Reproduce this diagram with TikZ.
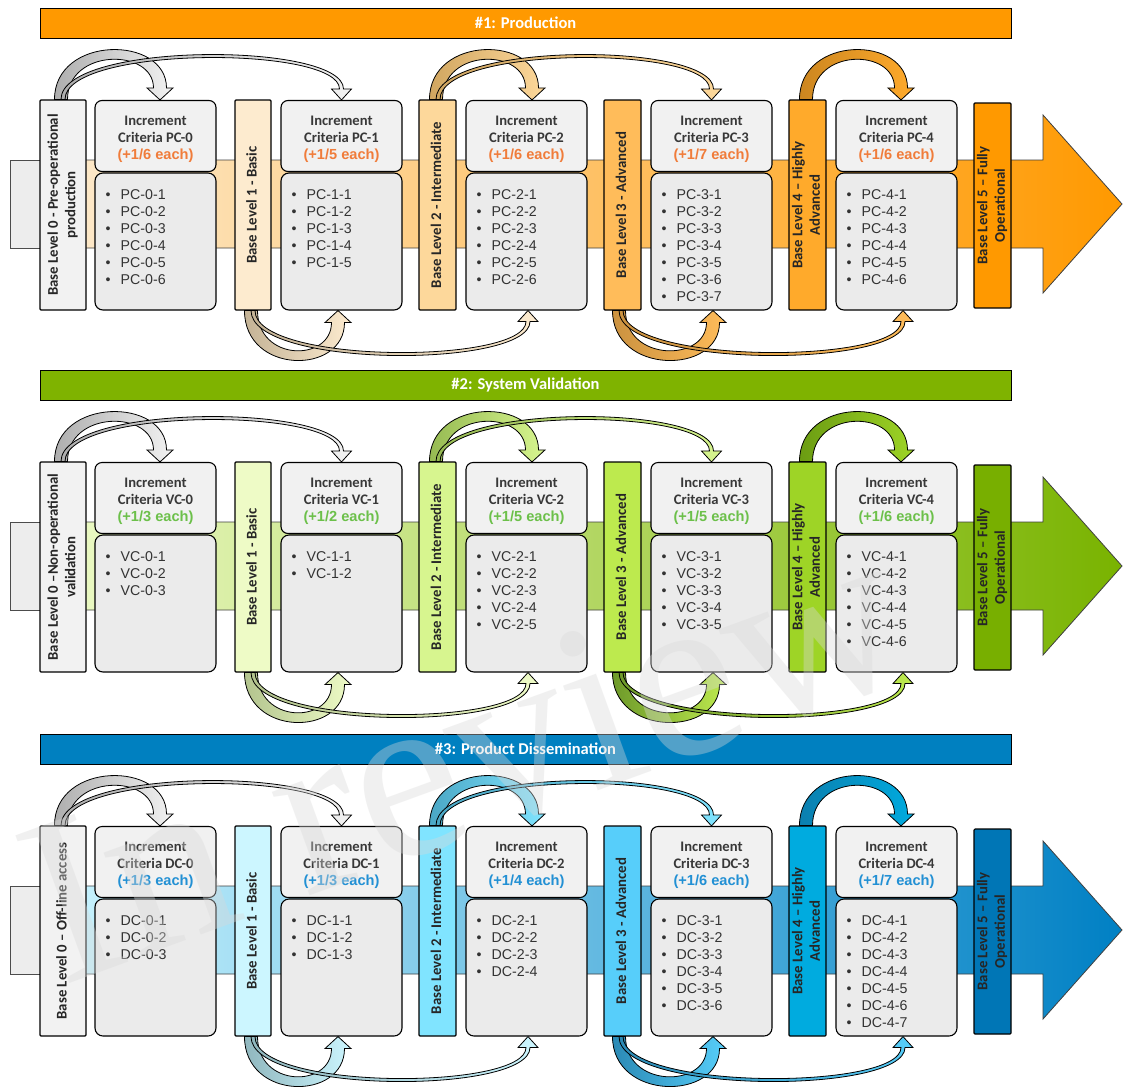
\documentclass[tikz,border=0pt]{standalone}
\usepackage{fontspec}
\usepackage{graphicx}
\setmainfont{Carlito}
\newfontfamily\arialf{Liberation Sans}
\newfontfamily\wmfont{Liberation Serif}
\usetikzlibrary{calc}

\definecolor{blzero}{HTML}{F2F2F2}
\definecolor{arrgrey}{HTML}{AEAEAE}
\definecolor{leftgrey}{HTML}{EDEDED}
\definecolor{hdrgray}{HTML}{F1F1F1}
\definecolor{lstgray}{HTML}{EBEBEB}
% section 1
\definecolor{s1t}{HTML}{FF9900}
\definecolor{s1b1}{HTML}{FDEBCF}
\definecolor{s1b2}{HTML}{FDD89B}
\definecolor{s1b3}{HTML}{FFBC5A}
\definecolor{s1b4}{HTML}{FFAA2B}
\definecolor{s1b5}{HTML}{FF9900}
\definecolor{s1a}{HTML}{F07C3A}
\definecolor{s1bl}{HTML}{FDEBCF}
\definecolor{s1bm}{HTML}{FFC466}
\definecolor{s1br}{HTML}{FF9900}
\definecolor{s1d1}{HTML}{C4B396}
\definecolor{s1d2}{HTML}{D1A660}
\definecolor{s1d3}{HTML}{CB9240}
\definecolor{s1d4}{HTML}{CC8620}
% section 2
\definecolor{s2t}{HTML}{7FB300}
\definecolor{s2b1}{HTML}{EEFBC6}
\definecolor{s2b2}{HTML}{D7F58F}
\definecolor{s2b3}{HTML}{BDEA4E}
\definecolor{s2b4}{HTML}{9ED426}
\definecolor{s2b5}{HTML}{78AF00}
\definecolor{s2a}{HTML}{6CC04A}
\definecolor{s2bl}{HTML}{EEFBC9}
\definecolor{s2bm}{HTML}{BDEA52}
\definecolor{s2br}{HTML}{79B300}
\definecolor{s2d1}{HTML}{B3C48E}
\definecolor{s2d2}{HTML}{96BA52}
\definecolor{s2d3}{HTML}{6E9A2A}
\definecolor{s2d4}{HTML}{6B9C12}
% section 3
\definecolor{s3t}{HTML}{0080C0}
\definecolor{s3b1}{HTML}{CCF6FF}
\definecolor{s3b2}{HTML}{80E4FF}
\definecolor{s3b3}{HTML}{57CEFA}
\definecolor{s3b4}{HTML}{00ABDF}
\definecolor{s3b5}{HTML}{0076B6}
\definecolor{s3a}{HTML}{2290D4}
\definecolor{s3bl}{HTML}{CCF5FF}
\definecolor{s3bm}{HTML}{4FCDF8}
\definecolor{s3br}{HTML}{0080C4}
\definecolor{s3d1}{HTML}{90B7BE}
\definecolor{s3d2}{HTML}{4AA7C5}
\definecolor{s3d3}{HTML}{2B8AB5}
\definecolor{s3d4}{HTML}{0B7FAF}

\newcommand\rottext[1]{\rotatebox{90}{\begin{tabular}{@{}c@{}}#1\end{tabular}}}

% curved block arrow: #1 from, #2 to, #3 sign (1 up, -1 down), #4 half shaft, #5 head half width,
% #6 head length, #7 height, #8 dark colour, #9 light colour
\newcommand\carrow[9]{%
  \pgfmathsetmacro\arrW{#4}%
  \pgfmathsetmacro\arrHW{#5}%
  \pgfmathsetmacro\arrHL{#3*#6}%
  \pgfmathsetmacro\arrO{#3*(#7+#4)}%
  \pgfmathsetmacro\arrI{#3*(#7-#4)}%
  \shadedraw[left color=#8, right color=#9, draw=black, line width=0.8pt]
    let \p1=#1, \p2=#2 in
    (\x1-\arrW pt,\y1) .. controls (\x1-\arrW pt,\y1+\arrO pt) and (\x2+\arrW pt,\y1+\arrO pt) .. (\x2+\arrW pt,\y2+\arrHL pt)
    -- (\x2+\arrHW pt,\y2+\arrHL pt) -- (\x2,\y2) -- (\x2-\arrHW pt,\y2+\arrHL pt) -- (\x2-\arrW pt,\y2+\arrHL pt)
    .. controls (\x2-\arrW pt,\y1+\arrI pt) and (\x1+\arrW pt,\y1+\arrI pt) .. (\x1+\arrW pt,\y1) -- cycle;}
\newcommand\fatarr[5]{\carrow{#1}{#2}{#3}{6.5}{13}{12}{58}{#4}{#5}}
\newcommand\thinarr[5]{\carrow{#1}{#2}{#3}{2}{10}{11}{56}{#4}{#5}}

% #1 idx, #2 y offset, #3 prefix, #4 title, #5 level-0 text, #6 list k/xc/n
\newcommand\drawsection[6]{%
  \node[titlebar, fill=s#1t] (s#1title) at (525.5,{23+#2}) {#4};
  \filldraw[fill=leftgrey, draw=black!70, line width=0.8pt] (10,{160+#2}) rectangle (46,{248+#2});
  \shadedraw[left color=s#1bl, middle color=s#1bm, right color=s#1br, draw=black!75, line width=0.8pt]
    (44,{160+#2}) -- (1043,{160+#2}) -- (1043,{115+#2}) -- (1122,{204+#2}) -- (1043,{293+#2})
    -- (1043,{248+#2}) -- (44,{248+#2}) -- cycle;
  \node[bl, fill=blzero, minimum width=46] (s#1L0) at (63,{205+#2}) {\rottext{#5}};
  \node[bl, fill=s#1b1, minimum width=36] (s#1L1) at (253,{205+#2}) {\rottext{Base Level 1 - Basic}};
  \node[bl, fill=s#1b2, minimum width=37] (s#1L2) at (437.5,{205+#2}) {\rottext{Base Level 2 - Intermediate}};
  \node[bl, fill=s#1b3, minimum width=37] (s#1L3) at (622.5,{205+#2}) {\rottext{Base Level 3 - Advanced}};
  \node[bl, fill=s#1b4, minimum width=37] (s#1L4) at (807.5,{205+#2}) {\rottext{Base Level 4 – Highly\\Advanced}};
  \node[bl, fill=s#1b5, minimum width=37, minimum height=205] (s#1L5) at (992.5,{205.5+#2}) {\rottext{Base Level 5 – Fully\\Operational}};
  \foreach \k/\xc/\n in {#6} {
    \node[hdr] (s#1h\k) at (\xc,{136+#2}) {};
    \node[hdrtext] (s#1h\k t) at (\xc,{139+#2}) {Increment\\Criteria #3-\k\\{\arialf\color{s#1a}(+1/\n\ each)}};
    \node[lst] (s#1l\k) at (\xc,{241.5+#2}) {};
    \foreach \m in {1,...,\n} {
      \node[item] (s#1l\k-\m) at ({\xc-50},{199+#2+17.1*(\m-1)}) {\makebox[15pt][l]{•}#3-\k-\m};
    }
  }
  \fatarr{($(s#1L0.north)+(-2,0)$)}{($(s#1h0.north)+(4.5,0)$)}{1}{arrgrey}{blzero}
  \thinarr{(s#1L0.north)}{(s#1h1.north)}{1}{arrgrey}{blzero}
  \fatarr{($(s#1L2.north)+(-1.5,0)$)}{($(s#1h2.north)+(5.5,0)$)}{1}{s#1d2}{s#1b2}
  \thinarr{($(s#1L2.north)+(0.5,0)$)}{(s#1h3.north)}{1}{s#1d2}{s#1b2}
  \fatarr{($(s#1L4.north)+(-1.5,0)$)}{($(s#1h4.north)+(4.5,0)$)}{1}{s#1d4}{s#1b4}
  \fatarr{($(s#1L1.south)+(-2,0)$)}{($(s#1l1.south)+(-3.5,0)$)}{-1}{s#1d1}{s#1b1}
  \thinarr{(s#1L1.south)}{($(s#1l2.south)+(1.5,0)$)}{-1}{s#1d1}{s#1b1}
  \fatarr{($(s#1L3.south)+(-3.5,0)$)}{($(s#1l3.south)+(1.5,0)$)}{-1}{s#1d3}{s#1b3}
  \thinarr{($(s#1L3.south)+(-1.5,0)$)}{($(s#1l4.south)+(6.5,0)$)}{-1}{s#1d3}{s#1b3}
}

\begin{document}
\begin{tikzpicture}[x=1pt,y=-1pt,
  bl/.style={draw=black, line width=1.1pt, rounded corners=1pt, minimum height=210, inner sep=0pt,
    font=\fontsize{14.8}{17.5}\selectfont\bfseries, text=black!85},
  hdr/.style={draw=black, line width=1.1pt, rounded corners=7pt, fill=hdrgray, minimum width=121,
    minimum height=71, inner sep=0pt},
  hdrtext/.style={align=center, inner sep=0pt, font=\fontsize{14.6}{17}\selectfont\bfseries, text=black!78},
  lst/.style={draw=black, line width=1.1pt, rounded corners=8pt, fill=lstgray, minimum width=121,
    minimum height=137, inner sep=0pt},
  item/.style={anchor=base west, inner sep=0pt, font={\arialf\fontsize{14.2}{17}\selectfont}, text=black!80},
  titlebar/.style={draw=black, line width=1pt, minimum width=971, minimum height=30, inner sep=0pt,
    font=\fontsize{16.5}{19}\selectfont\bfseries, text=white}]
\useasboundingbox (0,0) rectangle (1123,1087);
\fill[white] (0,0) rectangle (1123,1087);
\drawsection{1}{0}{PC}{\#1: Production}{Base Level 0 - Pre-operational\\production}{0/155.5/6,1/341.5/5,2/526.5/6,3/711.5/7,4/896.5/6}
\drawsection{2}{362}{VC}{\#2: System Validation}{Base Level 0 –Non-operational\\validation}{0/155.5/3,1/341.5/2,2/526.5/5,3/711.5/5,4/896.5/6}
\drawsection{3}{726}{DC}{\#3: Product Dissemination}{Base Level 0 – Off-line access}{0/155.5/3,1/341.5/3,2/526.5/4,3/711.5/6,4/896.5/7}
\node[rotate=20, anchor=base, inner sep=0pt, font={\wmfont\fontsize{240}{240}\selectfont}, text=black!15, opacity=0.38] (wm) at (490,830) {In review};
\end{tikzpicture}
\end{document}
